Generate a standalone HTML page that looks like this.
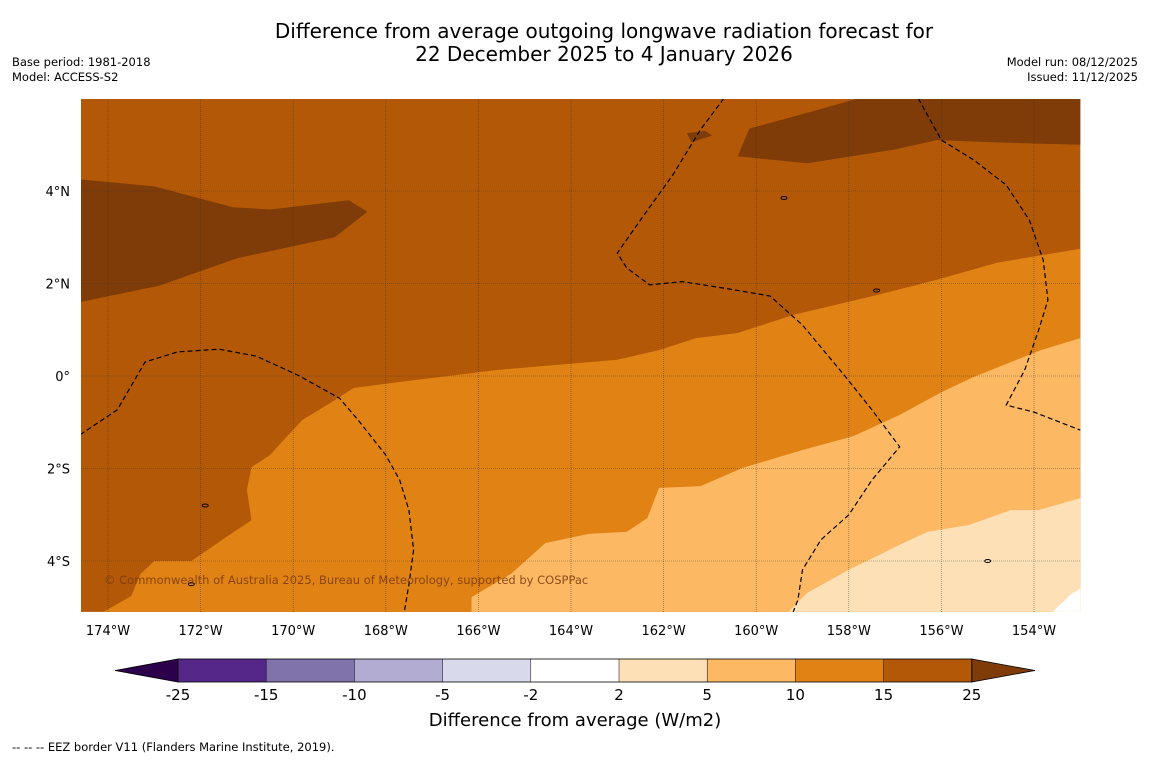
<!DOCTYPE html>
<html><head><meta charset="utf-8"><style>
body{margin:0;background:#fff;font-family:"DejaVu Sans","Liberation Sans",sans-serif}
svg text{font-family:"DejaVu Sans","Liberation Sans",sans-serif}
</style></head><body>
<svg id="chart" width="1150" height="758" viewBox="0 0 1150 758" xmlns="http://www.w3.org/2000/svg">
<rect width="1150" height="758" fill="#fff"/>
<text x="604" y="38" font-size="20" text-anchor="middle">Difference from average outgoing longwave radiation forecast for</text>
<text x="604" y="61" font-size="20" text-anchor="middle">22 December 2025 to 4 January 2026</text>
<text x="12" y="66" font-size="11.5">Base period: 1981-2018</text>
<text x="12" y="81" font-size="11.5">Model: ACCESS-S2</text>
<text x="1138" y="66" font-size="11.5" text-anchor="end">Model run: 08/12/2025</text>
<text x="1138" y="81" font-size="11.5" text-anchor="end">Issued: 11/12/2025</text>
<defs><clipPath id="mapclip"><rect x="81" y="99" width="1000" height="514"/></clipPath></defs>
<g id="map" clip-path="url(#mapclip)"></g>
<g id="axes"></g>
<text x="104" y="584" font-size="11.5" fill="#7a3a10" fill-opacity="0.85">© Commonwealth of Australia 2025, Bureau of Meteorology, supported by COSPPac</text>
<g id="colorbar"></g>
<text x="575" y="726" font-size="18" text-anchor="middle">Difference from average (W/m2)</text>
<text x="12" y="751" font-size="11.5">--  --  -- EEZ border V11 (Flanders Marine Institute, 2019).</text>
</svg>
<script>
// axis tick data
const lonTicks=[-174,-172,-170,-168,-166,-164,-162,-160,-158,-156,-154];
const latTicks=[4,2,0,-2,-4];
const cbBounds=[-25,-15,-10,-5,-2,2,5,10,15,25];
const cbColors=["#542788","#8073ac","#b2abd2","#d8daeb","#ffffff","#fee0b6","#fdb863","#e08214","#b35806"];
// map extent
const lonMin=-174.6, lonMax=-153.0, latMin=-5.1, latMax=6.0;
// contour regions [lon,lat]
const darkWest=[[-174.6,4.25],[-173,4.1],[-171.3,3.65],[-170.5,3.6],[-168.8,3.8],[-168.4,3.55],[-169.1,3.0],[-171.2,2.55],[-172.9,1.95],[-174.6,1.6]];
const darkNorthEast=[[-160.4,4.75],[-160.15,5.35],[-159.05,5.65],[-157.8,6.0],[-153.0,6.0],[-153.0,5.0],[-154.8,5.05],[-156.1,5.1],[-157.0,4.9],[-158.9,4.6],[-159.9,4.7]];
const darkSmall=[[-161.5,5.25],[-161.1,5.3],[-160.95,5.2],[-161.4,5.05]];
const orangeZone=[[-153.0,2.75],[-154.8,2.45],[-156.1,2.08],[-157.4,1.75],[-159.2,1.32],[-160.4,0.93],[-161.3,0.82],[-162.1,0.56],[-163.0,0.35],[-164.3,0.24],[-165.6,0.13],[-167.4,-0.09],[-168.7,-0.26],[-169.1,-0.52],[-169.8,-0.95],[-170.2,-1.38],[-170.5,-1.71],[-170.9,-1.97],[-171.0,-2.46],[-170.9,-3.12],[-171.4,-3.45],[-172.2,-4.0],[-173.0,-4.0],[-173.3,-4.28],[-173.5,-4.76],[-174.1,-5.1],[-153.0,-5.1]];
const lightZone=[[-166.15,-5.1],[-166.15,-4.78],[-165.3,-4.28],[-164.55,-3.61],[-163.6,-3.41],[-162.8,-3.37],[-162.35,-3.07],[-162.1,-2.42],[-161.2,-2.38],[-160.3,-1.99],[-159.0,-1.6],[-157.9,-1.3],[-156.9,-0.84],[-156.0,-0.35],[-155.35,-0.04],[-154.5,0.3],[-153.85,0.56],[-153.0,0.82],[-153.0,-5.1]];
const palestZone=[[-153.0,-2.64],[-153.9,-2.9],[-154.5,-2.9],[-155.4,-3.22],[-156.3,-3.37],[-156.9,-3.65],[-158.0,-4.19],[-158.9,-4.69],[-159.3,-5.1],[-153.0,-5.1]];
const eezA=[[-174.6,-1.27],[-173.8,-0.73],[-173.2,0.3],[-172.5,0.52],[-171.6,0.58],[-170.8,0.43],[-169.9,0.02],[-169.0,-0.48],[-168.6,-0.95],[-168.0,-1.71],[-167.7,-2.25],[-167.5,-2.9],[-167.4,-3.76],[-167.5,-4.51],[-167.6,-5.1]];
const eezB=[[-160.7,6.0],[-161.2,5.33],[-161.8,4.35],[-162.5,3.37],[-163.0,2.66],[-162.8,2.34],[-162.3,1.97],[-161.6,2.04],[-160.7,1.9],[-159.7,1.73],[-159.0,1.1],[-158.1,0.02],[-157.5,-0.73],[-156.9,-1.53],[-157.5,-2.25],[-158.0,-3.0],[-158.6,-3.54],[-159.0,-4.19],[-159.1,-4.84],[-159.2,-5.1]];
const eezC=[[-156.5,6.0],[-156.0,5.1],[-155.3,4.67],[-154.6,4.13],[-154.1,3.37],[-153.8,2.5],[-153.7,1.64],[-153.9,0.99],[-154.2,0.13],[-154.6,-0.63],[-154.0,-0.78],[-153.0,-1.17]];

const NS="http://www.w3.org/2000/svg";
const X=lon=>108+(lon+174)*46.3;
const Y=lat=>376-lat*46.25;
function mk(tag,attrs,parent){const e=document.createElementNS(NS,tag);for(const k in attrs)e.setAttribute(k,attrs[k]);parent.appendChild(e);return e;}
const pts=a=>a.map(p=>X(p[0]).toFixed(1)+","+Y(p[1]).toFixed(1)).join(" ");
const map=document.getElementById("map");
let bg=mk("rect",{x:X(lonMin),y:Y(latMax),width:X(lonMax)-X(lonMin),height:Y(latMin)-Y(latMax),fill:"#b35806"},map);


const regions=[[darkWest,"#7f3b08","region-dark-west"],[darkNorthEast,"#7f3b08","region-dark-northeast"],[darkSmall,"#7f3b08","region-dark-small"],[orangeZone,"#e08214","region-orange"],[lightZone,"#fdb863","region-light-orange"],[palestZone,"#fee0b6","region-pale"]];
regions.forEach(r=>{const p=mk("polygon",{points:pts(r[0]),fill:r[1]},map);

});
let wc=mk("polygon",{points:pts([[-153.6,-5.1],[-153.2,-4.72],[-153.0,-4.6],[-153.0,-5.1]]),fill:"#fff"},map);


lonTicks.forEach(l=>{const g=mk("line",{x1:X(l),x2:X(l),y1:99,y2:613,stroke:"#333","stroke-width":0.6,"stroke-dasharray":"1,1","stroke-opacity":0.7},map);

});
latTicks.forEach(l=>{const g=mk("line",{x1:81,x2:1081,y1:Y(l),y2:Y(l),stroke:"#333","stroke-width":0.6,"stroke-dasharray":"1,1","stroke-opacity":0.7},map);

});
[[eezA,"eez-border-west"],[eezB,"eez-border-central"],[eezC,"eez-border-east"]].forEach(e=>{const l=mk("polyline",{points:pts(e[0]),fill:"none",stroke:"#000","stroke-width":1.2,"stroke-dasharray":"5,3"},map);

});
[[-157.4,1.85],[-171.9,-2.8],[-172.2,-4.5],[-159.4,3.85],[-155.0,-4.0]].forEach(p=>{const c=mk("ellipse",{cx:X(p[0]),cy:Y(p[1]),rx:3,ry:1.5,fill:"none",stroke:"#000","stroke-width":1},map);

});
const axes=document.getElementById("axes");
const fmtLon=l=>Math.abs(l)+"°"+(l<0?"W":"E");
const fmtLat=l=>l===0?"0°":Math.abs(l)+"°"+(l>0?"N":"S");
lonTicks.forEach(l=>{const t=mk("text",{x:X(l),y:635,"font-size":13,"text-anchor":"middle"},axes);t.textContent=fmtLon(l);

});
latTicks.forEach(l=>{const t=mk("text",{x:70,y:Y(l)+5,"font-size":13,"text-anchor":"end"},axes);t.textContent=fmtLat(l);

});
const cb=document.getElementById("colorbar");
const cbX0=178,cbW=88.2,cbY=659,cbH=23;
const cx=i=>cbX0+i*cbW;
let lt=mk("polygon",{points:`115,${cbY+cbH/2} ${cx(0)},${cbY} ${cx(0)},${cbY+cbH}`,fill:"#2d004b",stroke:"#000","stroke-width":0.8},cb);


cbColors.forEach((c,i)=>{const r=mk("rect",{x:cx(i),y:cbY,width:cbW,height:cbH,fill:c},cb);

});
const last=cx(cbColors.length);
let rt=mk("polygon",{points:`${last},${cbY} 1035,${cbY+cbH/2} ${last},${cbY+cbH}`,fill:"#7f3b08",stroke:"#000","stroke-width":0.8},cb);


let ob=mk("rect",{x:cx(0),y:cbY,width:last-cx(0),height:cbH,fill:"none",stroke:"#000","stroke-width":0.8},cb);


cbBounds.forEach((b,i)=>{if(i>0&&i<cbBounds.length-1){const d=mk("line",{x1:cx(i),x2:cx(i),y1:cbY,y2:cbY+cbH,stroke:"#000","stroke-width":0.5},cb);

}
const t=mk("text",{x:cx(i),y:700,"font-size":15,"text-anchor":"middle"},cb);t.textContent=b;

});
</script>
</body></html>
